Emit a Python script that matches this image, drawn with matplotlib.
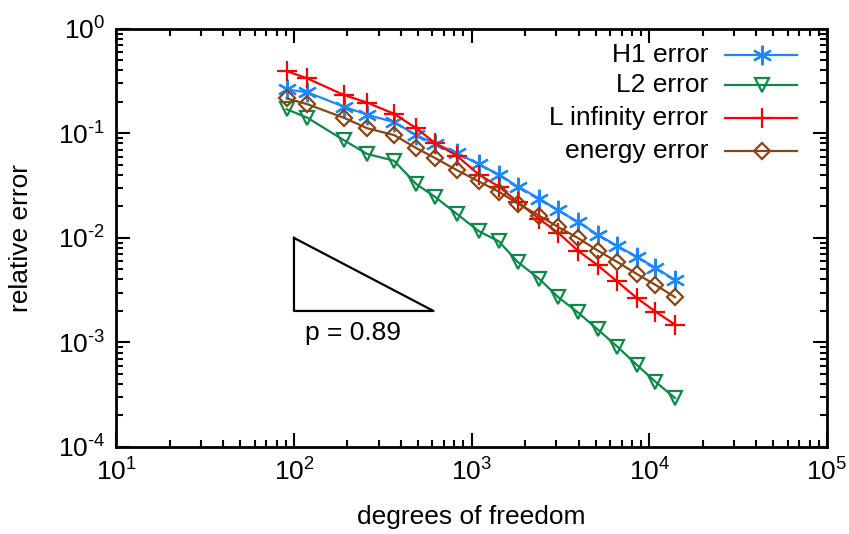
import matplotlib

matplotlib.use("Agg")
import matplotlib.pyplot as plt
from matplotlib.lines import Line2D
from matplotlib.ticker import LogLocator, NullFormatter

plt.rcParams["font.family"] = ["Liberation Sans", "DejaVu Sans"]
plt.rcParams["mathtext.fontset"] = "custom"
plt.rcParams["mathtext.rm"] = "Liberation Sans"
plt.rcParams["mathtext.it"] = "Liberation Sans:italic"

# ── Data ────────────────────────────────────────────────────────────────────
dofs = [91, 119, 191, 258, 366, 488, 622, 824, 1097, 1422, 1818, 2407,
        3074, 3957, 5129, 6596, 8487, 10840, 13960]

h1_err = [0.263, 0.247, 0.180, 0.151, 0.128, 0.0963, 0.0797, 0.0650, 0.0507,
          0.0404, 0.0310, 0.0238, 0.0183, 0.0143, 0.0107, 0.00841, 0.00660,
          0.00519, 0.00395]
l2_err = [0.170, 0.141, 0.0860, 0.0636, 0.0547, 0.0327, 0.0247, 0.0170, 0.0116,
          0.00928, 0.00589, 0.00404, 0.00271, 0.00194, 0.00133, 0.000914,
          0.000612, 0.000420, 0.000294]
linf_err = [0.395, 0.335, 0.233, 0.197, 0.154, 0.112, 0.0809, 0.0612, 0.0404,
            0.0310, 0.0221, 0.0151, 0.0112, 0.00757, 0.00547, 0.00383,
            0.00267, 0.00197, 0.00148]
energy_err = [0.216, 0.190, 0.141, 0.112, 0.0963, 0.0723, 0.0581, 0.0446,
              0.0347, 0.0277, 0.0213, 0.0163, 0.0127, 0.0100, 0.00757,
              0.00589, 0.00453, 0.00355, 0.00271]

labels = ["H1 error", "L2 error", "L infinity error", "energy error"]

# slope triangle
tri_x = [100, 100, 610, 100]
tri_y = [0.01, 0.002, 0.002, 0.01]
slope_label = "p = 0.89"

x_ticks = [1e1, 1e2, 1e3, 1e4, 1e5]
x_ticklabels = ["10$^{1}$", "10$^{2}$", "10$^{3}$", "10$^{4}$", "10$^{5}$"]
y_ticks = [1e-4, 1e-3, 1e-2, 1e-1, 1]
y_ticklabels = ["10$^{\\text{-}4}$", "10$^{\\text{-}3}$", "10$^{\\text{-}2}$",
                "10$^{\\text{-}1}$", "10$^{0}$"]

# ── Styles ──────────────────────────────────────────────────────────────────
C_H1 = "#1a88ff"
C_L2 = "#0e8a48"
C_LINF = "#ff0000"
C_EN = "#8b4513"
FS = 19

styles = [
    dict(color=C_H1, marker=(6, 2, 0), ms=14, mew=1.6),
    dict(color=C_L2, marker="v", ms=10, mfc="none", mew=1.6),
    dict(color=C_LINF, marker="+", ms=15, mew=1.6),
    dict(color=C_EN, marker="D", ms=8.5, mfc="none", mew=1.6),
]
series = [h1_err, l2_err, linf_err, energy_err]

fig = plt.figure(figsize=(8.49, 5.34), dpi=100)
ax = fig.add_axes([0.137, 0.163, 0.837, 0.783])

for ys, st in zip(series, styles):
    ax.plot(dofs, ys, lw=1.6, **st)

ax.plot(tri_x, tri_y, color="black", lw=1.6)
ax.text(214, 0.00122, slope_label, ha="center", va="center", fontsize=FS)

ax.set_xscale("log")
ax.set_yscale("log")
ax.set_xlim(10, 1e5)
ax.set_ylim(1e-4, 1)

ax.set_xticks(x_ticks)
ax.set_xticklabels(x_ticklabels)
ax.set_yticks(y_ticks)
ax.set_yticklabels(y_ticklabels)
ax.xaxis.set_minor_locator(LogLocator(base=10, subs=range(2, 10), numticks=20))
ax.yaxis.set_minor_locator(LogLocator(base=10, subs=range(2, 10), numticks=20))
ax.xaxis.set_minor_formatter(NullFormatter())
ax.yaxis.set_minor_formatter(NullFormatter())

ax.tick_params(which="both", direction="in", top=True, right=True,
               width=1.5, labelsize=FS)
ax.tick_params(which="major", length=10, pad=8)
ax.tick_params(which="minor", length=5)
for s in ax.spines.values():
    s.set_linewidth(2)

ax.set_xlabel("degrees of freedom", fontsize=FS, labelpad=14)
ax.set_ylabel("relative error", fontsize=FS, labelpad=18)

# ── Legend (gnuplot style: right-aligned text, sample to the right) ─────────
leg_y = [0.938, 0.865, 0.787, 0.709]
for lab, st, yy in zip(labels, styles, leg_y):
    ax.text(0.833, yy, lab, transform=ax.transAxes, ha="right", va="center",
            fontsize=FS)
    ax.add_line(Line2D([0.856, 0.958], [yy, yy], transform=ax.transAxes,
                       color=st["color"], lw=1.6))
    ax.add_line(Line2D([0.908], [yy], transform=ax.transAxes, lw=0,
                       color=st["color"], marker=st["marker"], ms=st["ms"],
                       mfc=st.get("mfc", st["color"]), mew=st["mew"]))

fig.savefig("out.png", dpi=100, facecolor="white")
